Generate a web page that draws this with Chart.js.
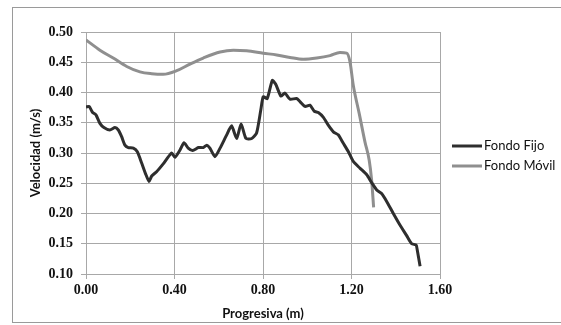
<!DOCTYPE html>
<html>
<head>
<meta charset="utf-8">
<script src="https://cdn.jsdelivr.net/npm/chart.js@4.4.0/dist/chart.umd.min.js"></script>
<style>
  body { margin: 0; background: #fff; }
  #wrap { position: relative; width: 561px; height: 325px; }
</style>
</head>
<body>
<div id="wrap"><canvas id="chart" width="561" height="325"></canvas></div>
<script>
// Fondo Fijo (black)
const fijoX = [0.000, 0.014, 0.030, 0.045, 0.063, 0.081, 0.108, 0.131, 0.146, 0.161, 0.176, 0.191, 0.214, 0.232,
  0.252, 0.271, 0.285, 0.297, 0.319, 0.349, 0.387, 0.402, 0.425, 0.443, 0.462, 0.482, 0.508, 0.530, 0.546, 0.560,
  0.583, 0.606, 0.636, 0.658, 0.681, 0.701, 0.723, 0.749, 0.771, 0.790, 0.801, 0.819, 0.842, 0.857, 0.881, 0.899,
  0.922, 0.952, 0.967, 0.990, 1.012, 1.032, 1.050, 1.073, 1.095, 1.118, 1.140, 1.163, 1.186, 1.208, 1.238, 1.269,
  1.291, 1.314, 1.336, 1.359, 1.389, 1.419, 1.450, 1.472, 1.492, 1.497, 1.510];
const fijoY = [0.376, 0.377, 0.367, 0.363, 0.349, 0.342, 0.338, 0.342, 0.338, 0.327, 0.313, 0.309, 0.308, 0.302,
  0.283, 0.264, 0.253, 0.262, 0.269, 0.282, 0.300, 0.293, 0.305, 0.317, 0.308, 0.304, 0.309, 0.309, 0.313, 0.308,
  0.294, 0.308, 0.330, 0.345, 0.324, 0.348, 0.324, 0.324, 0.333, 0.371, 0.393, 0.390, 0.420, 0.414, 0.394, 0.399,
  0.389, 0.390, 0.385, 0.377, 0.379, 0.369, 0.367, 0.359, 0.346, 0.335, 0.330, 0.316, 0.302, 0.286, 0.275, 0.264,
  0.251, 0.239, 0.233, 0.220, 0.200, 0.181, 0.163, 0.150, 0.148, 0.140, 0.113];

// Fondo Móvil (gray)
const movilX = [0.000, 0.063, 0.123, 0.184, 0.244, 0.297, 0.349, 0.410, 0.470, 0.530, 0.606, 0.666, 0.726, 0.801,
  0.862, 0.922, 0.982, 1.043, 1.103, 1.148, 1.178, 1.193, 1.208, 1.235, 1.261, 1.280, 1.291, 1.300];
const movilY = [0.487, 0.470, 0.457, 0.443, 0.434, 0.431, 0.430, 0.436, 0.447, 0.457, 0.467, 0.470, 0.469, 0.465,
  0.462, 0.458, 0.455, 0.457, 0.461, 0.466, 0.465, 0.451, 0.412, 0.365, 0.318, 0.288, 0.255, 0.210];

const seriesNames = ["Fondo Fijo", "Fondo Móvil"];
const seriesColors = ["#2e2e2e", "#8f8f8f"];

function toPoints(xs, ys) {
  return xs.map((x, i) => ({ x: x, y: ys[i] }));
}

const frame = {
  id: "frame",
  beforeDraw(chart) {
    const ctx = chart.ctx;
    ctx.save();
    ctx.fillStyle = "#fff";
    ctx.fillRect(0, 0, chart.width, chart.height);
    ctx.strokeStyle = "#9a9a9a";
    ctx.lineWidth = 1;
    ctx.strokeRect(12.5, 7.5, 560, 315);
    ctx.restore();
  },
  afterDraw(chart) {
    const ctx = chart.ctx;
    ctx.save();
    ctx.font = "13px Lato";
    ctx.textBaseline = "middle";
    const rows = [146, 166];
    chart.data.datasets.forEach((ds, i) => {
      ctx.strokeStyle = ds.borderColor;
      ctx.lineWidth = 3;
      ctx.beginPath();
      ctx.moveTo(452, rows[i]);
      ctx.lineTo(482, rows[i]);
      ctx.stroke();
      ctx.fillStyle = "#111";
      ctx.fillText(ds.label, 484, rows[i]);
    });
    ctx.restore();
  }
};

const ctx = document.getElementById("chart").getContext("2d");
new Chart(ctx, {
  type: "line",
  data: {
    datasets: [
      {
        label: seriesNames[0],
        data: toPoints(fijoX, fijoY),
        borderColor: seriesColors[0],
        borderWidth: 3,
        pointRadius: 0,
        tension: 0.2,
        fill: false
      },
      {
        label: seriesNames[1],
        data: toPoints(movilX, movilY),
        borderColor: seriesColors[1],
        borderWidth: 3,
        pointRadius: 0,
        cubicInterpolationMode: "monotone",
        fill: false
      }
    ]
  },
  options: {
    responsive: false,
    animation: false,
    layout: { padding: { left: 28, right: 121, top: 32, bottom: 3 } },
    plugins: { legend: { display: false }, tooltip: { enabled: false } },
    scales: {
      x: {
        type: "linear",
        min: 0,
        max: 1.6,
        ticks: {
          stepSize: 0.4,
          padding: 3,
          color: "#111",
          font: { family: "Liberation Serif", size: 14, weight: "bold" },
          callback: (v) => v.toFixed(2)
        },
        grid: { color: "#a8a8a8", tickLength: 5 },
        border: { color: "#a8a8a8" },
        title: {
          display: true,
          text: "Progresiva (m)",
          color: "#111",
          font: { family: "Lato", size: 13, weight: "bold" },
          padding: { top: 1, bottom: 0 }
        },
        afterFit: (scale) => { scale.height = 48; }
      },
      y: {
        min: 0.1,
        max: 0.5,
        ticks: {
          stepSize: 0.05,
          padding: 8,
          color: "#111",
          font: { family: "Liberation Serif", size: 14, weight: "bold" },
          callback: (v) => v.toFixed(2)
        },
        grid: { color: "#a8a8a8", tickLength: 5 },
        border: { color: "#a8a8a8" },
        title: {
          display: true,
          text: "Velocidad (m/s)",
          color: "#111",
          font: { family: "Lato", size: 13, weight: "bold" },
          padding: { top: 0, bottom: 0 }
        },
        afterFit: (scale) => { scale.width = 58; }
      }
    }
  },
  plugins: [frame]
});
</script>
</body>
</html>
